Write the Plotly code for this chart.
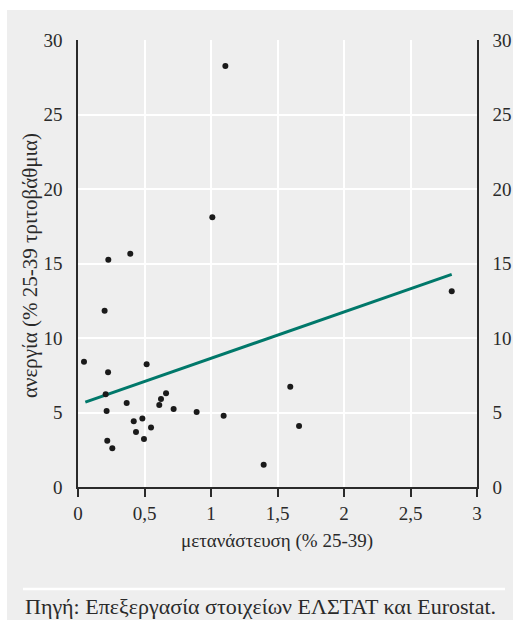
import plotly.graph_objects as go

# Data
migration = [1.108, 1.01, 0.393, 0.228, 0.20, 0.045, 0.226, 0.516, 0.208, 0.366,
             0.215, 0.624, 0.662, 0.611, 0.719, 0.892, 1.095, 0.419, 0.484, 0.549,
             0.436, 0.496, 0.220, 0.258, 1.396, 1.596, 1.662, 2.81]
unemployment = [28.26, 18.1, 15.66, 15.26, 11.83, 8.41, 7.70, 8.23, 6.22, 5.64,
                5.10, 5.91, 6.29, 5.50, 5.23, 5.03, 4.79, 4.41, 4.59, 4.00,
                3.69, 3.22, 3.11, 2.60, 1.50, 6.73, 4.09, 13.13]
trend_x = [0.055, 2.81]
trend_y = [5.70, 14.27]
x_ticks = [0, 0.5, 1, 1.5, 2, 2.5, 3]
y_ticks = [0, 5, 10, 15, 20, 25, 30]

x_title = "μετανάστευση (% 25-39)"
y_title = "ανεργία (% 25-39 τριτοβάθμια)"
source = "Πηγή: Επεξεργασία στοιχείων ΕΛΣΤΑΤ και Eurostat."

W, H = 513, 620
ML, MR, MT, MB = 78, 36, 40, 133
PW, PH = W - ML - MR, H - MT - MB

def px(xp):
    return (xp - ML) / PW

def py(yp):
    return (H - MB - yp) / PH

FONT = "'Liberation Serif', 'Times New Roman', Times, serif"
GREY = "#eeeeee"
TXT = "#2a2a2a"
TICK_SIZE = 19

fig = go.Figure()
fig.add_trace(go.Scatter(x=trend_x, y=trend_y, mode="lines",
                         line=dict(color="#00786a", width=3), hoverinfo="skip"))
fig.add_trace(go.Scatter(x=migration, y=unemployment, mode="markers",
                         marker=dict(color="#1a1a1a", size=6)))
fig.add_trace(go.Scatter(x=migration, y=unemployment, mode="markers", yaxis="y2",
                         marker=dict(opacity=0), hoverinfo="skip"))

fig.update_layout(
    width=W, height=H,
    margin=dict(l=ML, r=MR, t=MT, b=MB, autoexpand=False),
    paper_bgcolor="white", plot_bgcolor=GREY,
    showlegend=False,
    separators=",.",
    font=dict(family=FONT, size=TICK_SIZE, color=TXT),
    xaxis=dict(range=[0, 3], tickvals=x_ticks, showgrid=True, gridcolor="white", gridwidth=2,
               zeroline=False, showline=True, linecolor=TXT, linewidth=1.5,
               ticks="outside", ticklen=8, tickwidth=1.5, tickcolor=TXT,
               automargin=False,
               tickfont=dict(family=FONT, size=TICK_SIZE, color=TXT)),
    yaxis=dict(range=[0, 30], tickvals=y_ticks, showgrid=True, gridcolor="white", gridwidth=2,
               zeroline=False, showline=True, linecolor=TXT, linewidth=1.5,
               ticks="", ticklabelstandoff=10, automargin=False,
               tickfont=dict(family=FONT, size=TICK_SIZE, color=TXT)),
    yaxis2=dict(range=[0, 30], tickvals=y_ticks, overlaying="y", side="right",
                showgrid=False, zeroline=False, showline=True, linecolor=TXT, linewidth=1.5,
                ticks="", ticklabelstandoff=10, automargin=False,
                tickfont=dict(family=FONT, size=TICK_SIZE, color=TXT)),
    shapes=[
        dict(type="rect", xref="paper", yref="paper", layer="below",
             x0=px(7), x1=px(513), y0=py(10), y1=py(621),
             fillcolor=GREY, line=dict(width=0)),
        dict(type="line", xref="paper", yref="paper",
             x0=px(23), x1=px(505), y0=py(589), y1=py(589),
             line=dict(color="white", width=2.5)),
    ],
    annotations=[
        dict(text=x_title, xref="paper", yref="paper", x=px(277), y=py(541),
             showarrow=False, xanchor="center", yanchor="middle",
             font=dict(family=FONT, size=19, color=TXT)),
        dict(text=y_title, xref="paper", yref="paper", x=px(30), y=py(266),
             showarrow=False, xanchor="center", yanchor="middle", textangle=-90,
             font=dict(family=FONT, size=21, color=TXT)),
        dict(text=source, xref="paper", yref="paper", x=px(23), y=py(606),
             showarrow=False, xanchor="left", yanchor="middle",
             font=dict(family=FONT, size=22, color=TXT)),
    ],
)

fig.write_html("out.html", config={"displayModeBar": False},
               post_script="document.body.style.margin='0';document.body.style.overflow='hidden';")
